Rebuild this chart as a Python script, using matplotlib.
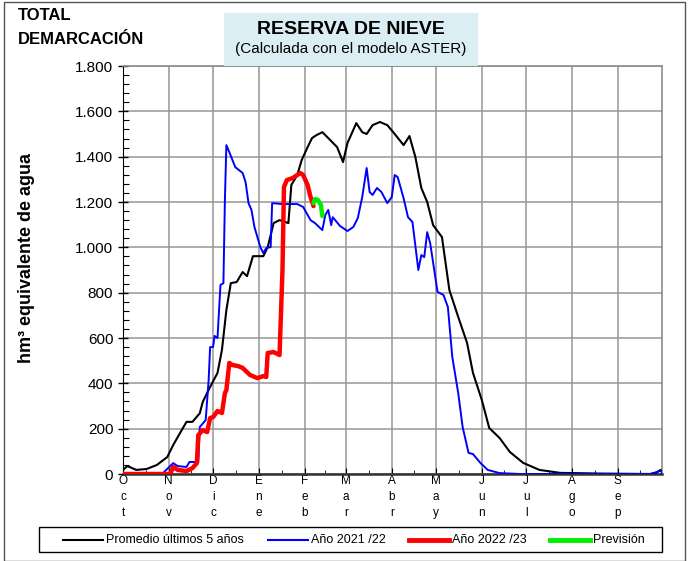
import matplotlib.pyplot as plt
from matplotlib.lines import Line2D
from matplotlib.patches import Rectangle
from matplotlib.ticker import FixedLocator, FuncFormatter

plt.rcParams["font.family"] = ["Liberation Sans", "DejaVu Sans"]

# dias desde el 1 de octubre
dias_promedio = [0, 3, 9, 16, 23, 30, 34, 39, 43, 47, 52, 54, 59, 64, 67, 70, 73, 77, 81,
                 84, 88, 95, 98, 102, 106, 112, 114, 118, 121, 125, 128, 131, 135, 139,
                 145, 149, 152, 155, 158, 162, 165, 169, 174, 179, 183, 190, 194, 198,
                 202, 206, 210, 216, 221, 227, 233, 237, 243, 248, 255, 262, 271, 282,
                 296, 323, 357, 361, 364, 365]
promedio = [18, 35, 18, 22, 40, 75, 128, 185, 230, 230, 268, 318, 384, 446, 547, 723,
            842, 847, 891, 873, 961, 961, 1001, 1107, 1120, 1107, 1275, 1319, 1385,
            1442, 1482, 1495, 1508, 1482, 1442, 1376, 1460, 1504, 1548, 1508, 1500,
            1539, 1553, 1539, 1508, 1451, 1491, 1398, 1262, 1200, 1098, 1045, 812,
            693, 578, 446, 326, 203, 159, 97, 49, 18, 5, 2, 0, 5, 18, 10]

dias_2122 = [0, 27, 28, 34, 37, 43, 45, 51, 52, 56, 58, 59, 61, 62, 64, 66, 68, 69, 70,
             72, 76, 81, 83, 85, 87, 89, 93, 95, 97, 100, 101, 108, 118, 122, 127, 130,
             135, 137, 139, 141, 142, 147, 152, 156, 159, 162, 165, 167, 169, 172, 175,
             179, 182, 184, 186, 190, 193, 196, 200, 202, 204, 206, 208, 213, 217, 220,
             223, 227, 230, 234, 237, 242, 247, 255, 269, 357, 361, 364, 365]
anio_2122 = [0, 0, 10, 48, 35, 31, 53, 53, 207, 238, 415, 560, 560, 609, 600, 834, 842,
             1209, 1451, 1420, 1354, 1328, 1288, 1195, 1165, 1090, 1001, 975, 997, 1001,
             1195, 1191, 1191, 1178, 1120, 1107, 1076, 1143, 1165, 1098, 1133, 1094,
             1072, 1090, 1129, 1222, 1350, 1244, 1231, 1262, 1244, 1195, 1222, 1319,
             1310, 1217, 1133, 1112, 900, 966, 957, 1067, 1019, 803, 790, 737, 516, 357,
             207, 93, 88, 49, 18, 4, 0, 0, 8, 15, 5]

dias_2223 = [0, 32, 34, 37, 43, 47, 50, 51, 54, 57, 59, 61, 64, 67, 69, 70, 72, 74, 78,
             81, 86, 91, 95, 97, 98, 102, 106, 108, 109, 111, 115, 120, 122, 125, 127, 129]
anio_2223 = [0, 0, 31, 18, 13, 26, 48, 172, 194, 185, 247, 251, 278, 269, 357, 370, 490,
             481, 476, 468, 437, 423, 432, 428, 534, 538, 525, 900, 1266, 1297, 1306,
             1328, 1319, 1275, 1222, 1182]

dias_prevision = [129, 130, 132, 134, 135]
prevision = [1195, 1213, 1209, 1187, 1138]

meses_inicio = [0, 31, 61, 92, 123, 151, 182, 212, 243, 273, 304, 335, 365]
meses = ["Oct", "Nov", "Dic", "Ene", "Feb", "Mar", "Abr", "May", "Jun", "Jul", "Ago", "Sep"]

series = ["Promedio últimos 5 años", "Año 2021 /22", "Año 2022 /23", "Previsión"]
colores = ["black", "#0000ff", "#ff0000", "#00ee00"]


def miles(v, pos):
    return f"{int(v):,}".replace(",", ".")


def main():
    fig = plt.figure(figsize=(6.88, 5.61), dpi=100)
    W, H = 688, 561
    ax = fig.add_axes([123 / W, 87 / H, 539 / W, 408 / H])

    ax.plot(dias_promedio, promedio, color=colores[0], lw=1.5, zorder=3)
    ax.plot(dias_2122, anio_2122, color=colores[1], lw=1.4, zorder=4)
    ax.plot(dias_2223, anio_2223, color=colores[2], lw=3.2, zorder=5,
            solid_capstyle="round")
    ax.plot(dias_prevision, prevision, color=colores[3], lw=3.2, zorder=5,
            solid_capstyle="round")

    ax.set_xlim(0, 365)
    ax.set_ylim(0, 1800)

    ax.yaxis.set_major_locator(FixedLocator(range(0, 1801, 200)))
    ax.yaxis.set_minor_locator(FixedLocator(range(0, 1801, 40)))
    ax.yaxis.set_major_formatter(FuncFormatter(miles))
    ax.tick_params(axis="y", which="major", labelsize=11, direction="inout",
                   length=7, width=1)
    ax.tick_params(axis="y", which="minor", direction="in", length=4, width=0.8)

    ax.xaxis.set_major_locator(FixedLocator(meses_inicio[:-1]))
    medios = [(a + b) / 2 for a, b in zip(meses_inicio[:-1], meses_inicio[1:])]
    ax.xaxis.set_minor_locator(FixedLocator(medios))
    ax.set_xticklabels(["\n".join(m) for m in meses], fontsize=8.5, linespacing=1.45,
                       va="top")
    ax.tick_params(axis="x", which="major", direction="in", length=4, pad=1)
    ax.tick_params(axis="x", which="minor", direction="in", length=3)

    ax.grid(True, which="major", color="#969696", lw=1.1)
    ax.set_axisbelow(True)
    for lado in ["top", "right"]:
        ax.spines[lado].set_color("#8c8c8c")
        ax.spines[lado].set_linewidth(1.2)
    ax.spines["left"].set_color("black")
    ax.spines["bottom"].set_color("#333333")
    ax.spines["bottom"].set_linewidth(1.8)

    ax.set_ylabel("hm³ equivalente de agua", fontsize=13, fontweight="bold")
    ax.yaxis.set_label_coords(-0.163, 0.53)

    # recuadro del titulo
    fig.patches.append(Rectangle((224 / W, 495 / H), 254 / W, 53 / H,
                                 transform=fig.transFigure, facecolor="#daeef3",
                                 edgecolor="none", zorder=0))
    fig.text(351 / W, 1 - 29 / H, "RESERVA DE NIEVE", fontsize=14,
             fontweight="bold", ha="center", va="center")
    fig.text(351 / W, 1 - 49 / H, "(Calculada con el modelo ASTER)",
             fontsize=11, ha="center", va="center")
    fig.text(18 / W, 1 - 16 / H, "TOTAL", fontsize=12, fontweight="bold",
             ha="left", va="center")
    fig.text(18 / W, 1 - 39 / H, "DEMARCACIÓN", fontsize=12, fontweight="bold",
             ha="left", va="center")

    # marco exterior
    fig.patches.append(Rectangle((4 / W, 0), 681 / W, 559 / H,
                                 transform=fig.transFigure, facecolor="none",
                                 edgecolor="#555555", lw=1))

    # leyenda dibujada a mano para respetar las posiciones del original
    fig.patches.append(Rectangle((39 / W, 9 / H), 623 / W, 25 / H,
                                 transform=fig.transFigure, facecolor="white",
                                 edgecolor="black", lw=1))
    inicios = [63, 268, 409, 550]
    anchos = [1.5, 1.5, 3.5, 3.5]
    y_ley = 1 - 540 / H
    for x0, nombre, color, lw in zip(inicios, series, colores, anchos):
        fig.add_artist(Line2D([x0 / W, (x0 + 40) / W], [y_ley, y_ley],
                              transform=fig.transFigure, color=color, lw=lw))
        fig.text((x0 + 43) / W, y_ley, nombre, fontsize=9, ha="left",
                 va="center")

    fig.savefig("out.png", dpi=100)
    plt.close(fig)


if __name__ == "__main__":
    main()
